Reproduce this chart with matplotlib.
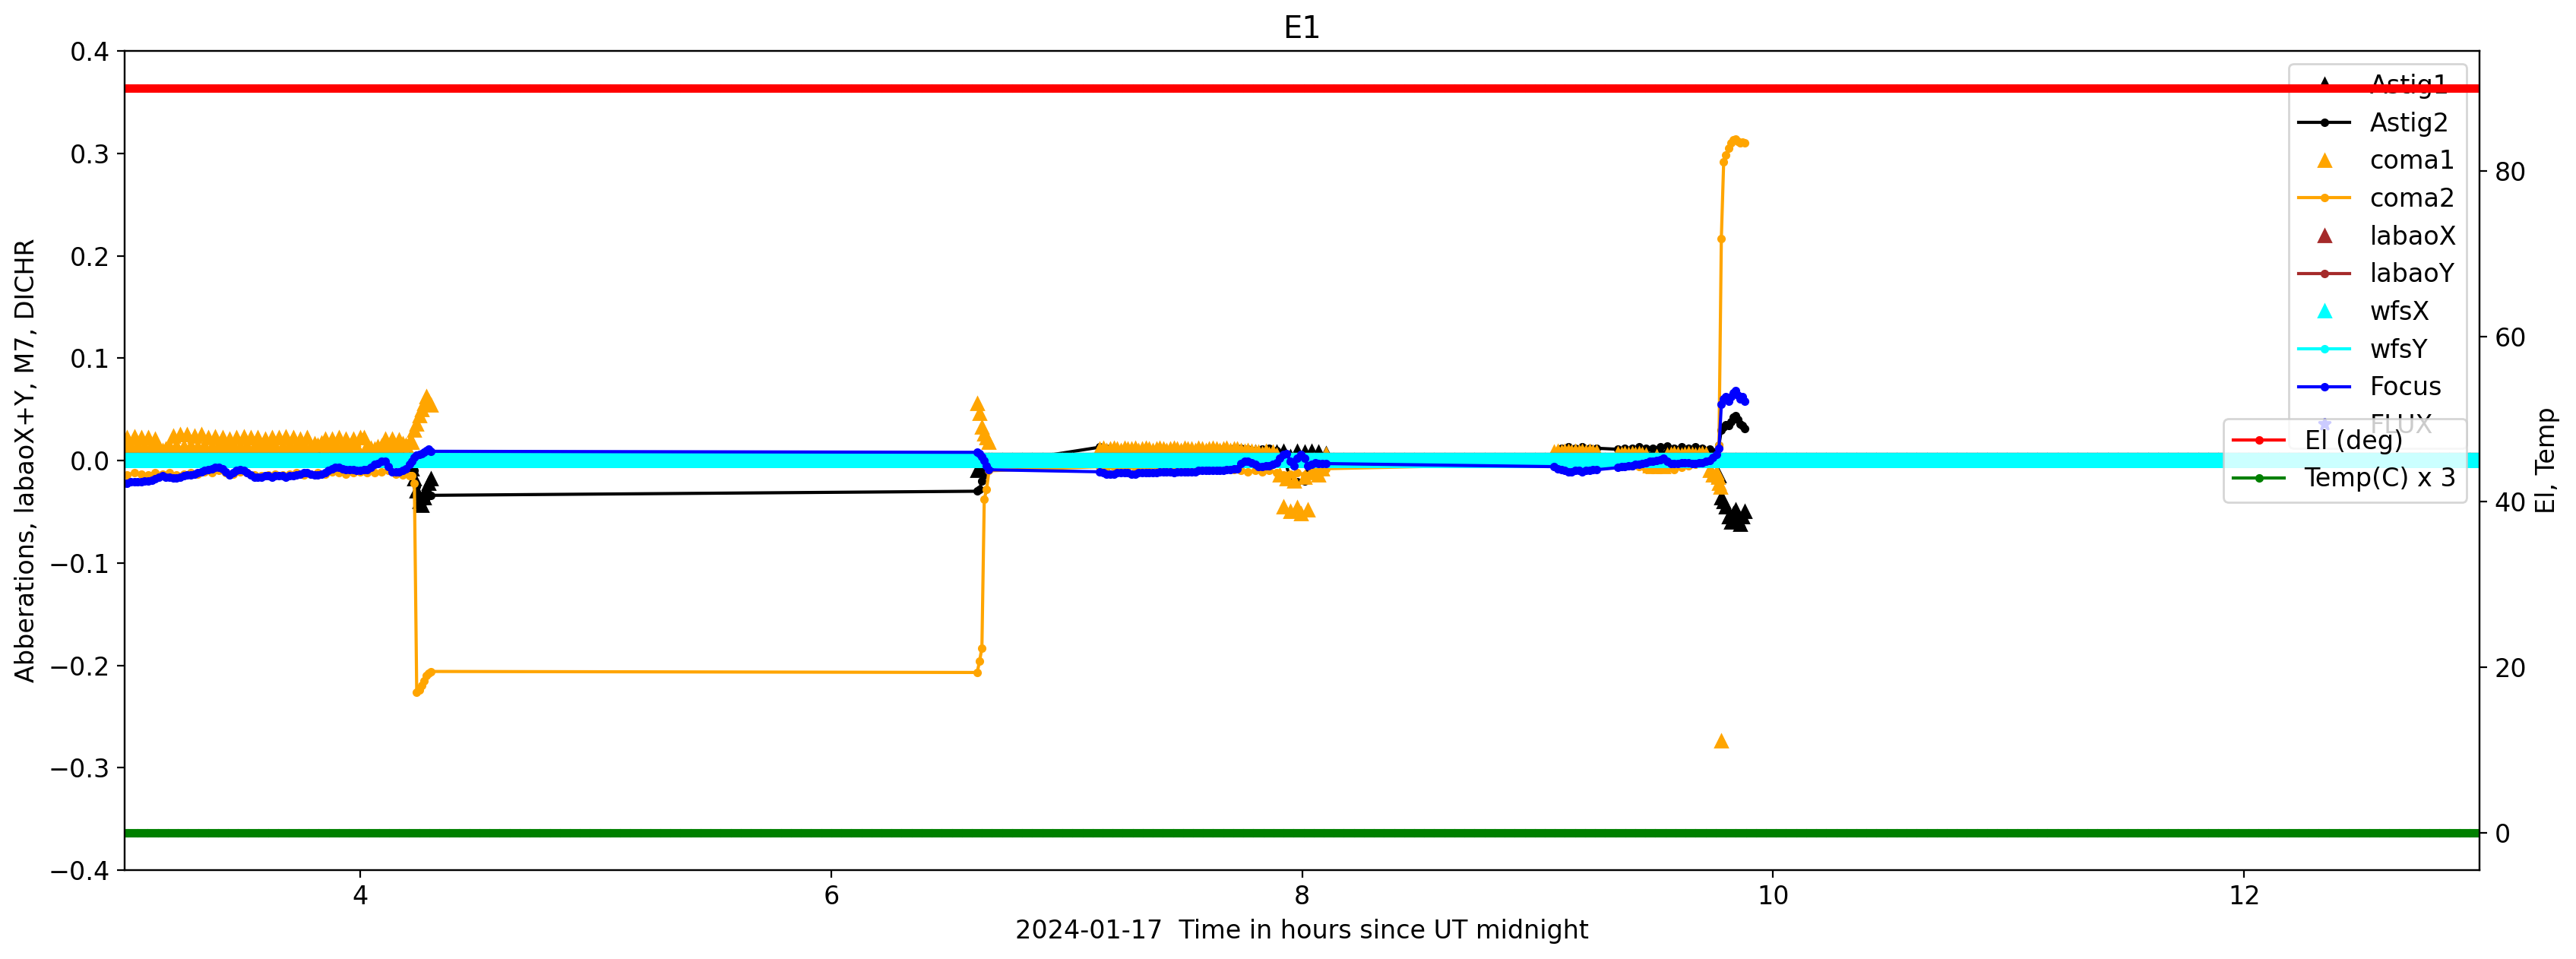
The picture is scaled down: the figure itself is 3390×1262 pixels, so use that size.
import numpy as np
import matplotlib.pyplot as plt

plt.rcParams['font.size'] = 12

# ─── Data ────────────────────────────────────────────────────────────────────
# time stamps, hours since UT midnight
# sparse sampling (Astig1, Astig2, coma2)
T_SPARSE = dict(
    A=2.98 + 0.03 * np.arange(42),
    J1=[4.22, 4.23, 4.24, 4.25, 4.26, 4.27, 4.28, 4.29, 4.30],
    J2=[6.62, 6.63, 6.64, 6.65, 6.66, 6.67],
    C=7.14 + 0.03 * np.arange(33),
    D1=9.07 + 0.03 * np.arange(7),
    D2=9.34 + 0.03 * np.arange(15),
    J3=[9.77, 9.78, 9.79, 9.80, 9.81, 9.82, 9.83, 9.84, 9.85, 9.86, 9.87, 9.88])
# dense sampling (coma1, Focus)
T_DENSE = dict(
    A=2.98 + 0.015 * np.arange(83),
    J1=T_SPARSE['J1'],
    J2=T_SPARSE['J2'],
    C=7.14 + 0.015 * np.arange(65),
    D1=9.07 + 0.015 * np.arange(13),
    D2=9.34 + 0.015 * np.arange(29),
    J3=T_SPARSE['J3'])
T_COMA1_J3 = [9.765, 9.77, 9.775, 9.78]
T_LONG = np.arange(2.9, 13.1, 0.003)   # continuous telemetry (wfs, El, Temp)

# aberrations in units of 1e-3
ASTIG1 = dict(
    A=[5, 4, 6, 3, 4, 5, 2, 5, 6, 5, 4, 3, 4, 5, 6, 4, 3, 5, 6, 5, 4, 5, 6, 5, 3,
       4, 5, 6, 5, 4, 3, 2, 4, 3, 2, 4, 3, 2, 3, 4, 2, 1],
    J1=[-8, -18, -30, -40, -44, -36, -28, -22, -18],
    J2=[-10, -8, -6, -4, -2, 0],
    C=[8, 9, 7, 6, 7, 6, 5, 6, 7, 6, 6, 7, 6, 5, 6, 7, 8, 9, 8, 9, 8, 7, 8, 6, 7,
       8, 9, 4, 9, 8, 9, 8, 7],
    D1=[7, 8, 8, 7, 8, 8, 7],
    D2=[6, 7, 7, 8, 7, 7, 8, 9, 7, 8, 8, 9, 8, 7, 5],
    J3=[-15, -36, -40, -45, -55, -60, -52, -48, -58, -62, -55, -50])
ASTIG2 = dict(
    A=[4, 3, 3, 4, 3, 2, 3, 4, 3, 3, 4, 3, 2, 3, 4, 3, 3, 2, 3, 4, 3, 3, 4, 3, 2,
       3, 3, 4, 3, 2, 3, 3, 2, 3, 2, 2, 3, 2, 2, 3, 2, 1],
    J1=[0, -10, -25, -38, -42, -40, -36, -34, -34],
    J2=[-30, -28, -20, -14, -8, -4],
    C=[13, 12, 11, 10, 10, 11, 10, 10, 11, 10, 10, 11, 10, 10, 11, 10, 10, 11, 11,
       12, 12, 11, 10, 11, 12, 10, 8, -20, -21, -20, 6, 4, 2],
    D1=[3, 12, 13, 12, 13, 12, 12],
    D2=[11, 12, 12, 13, 12, 12, 13, 14, 12, 13, 12, 13, 12, 11, 9],
    J3=[15, 30, 33, 35, 34, 38, 42, 44, 40, 36, 34, 31])
COMA1 = dict(
    A=[22, 14, 22, 13, 23, 14, 22, 13, 22, 14, 21,
       12, 10, 11, 13,
       24, 14, 25, 13, 25, 14, 24, 13, 25, 14,
       22, 13, 23, 14, 22, 13, 21, 14, 22, 13, 23, 14, 22, 13, 22, 14, 21, 13, 22,
       14, 22, 13, 23, 14, 22, 13, 21, 14, 22, 13,
       16, 15, 17,
       21, 13, 21, 14, 22, 13, 21, 14, 21, 13, 22,
       22, 14,
       12, 11, 13, 14,
       21, 13, 21, 14, 20,
       16, 15, 18],
    J1=[18, 30, 36, 44, 50, 56, 62, 58, 54],
    J2=[56, 46, 33, 26, 22, 18],
    C=[11, 12, 10, 11, 12, 11, 10, 12, 11, 11, 12, 10, 11, 12, 11, 10, 11, 12, 11,
       10, 11, 12, 11, 10, 12, 11, 11, 10, 12, 11, 10, 11, 12, 11, 10, 11, 12, 10,
       11, 11, 10, 9, 10, 9, 8,
       8, 7, 9, 6, 8, 5,
       -14, -45, -18, -50, -20, -46,
       -52, -16, -48, -12,
       -10, -14, -8, 6],
    D1=[8, 9, 8, 9, 9, 8, 9, 8, 9, 8, 9, 8, 8],
    D2=[7, 6, 7, 6, 7, 6, 7, 6, 5, -5, -6, 4, -5, -6, 5, 6, 7, 6, 5, 6, 7, 6, 5,
        6, 7, 6, -10, -14, -12],
    J3=[-16, -22, -26, -274])
COMA2 = dict(
    A=[-13, -14, -12, -13, -14, -12, -13, -12, -14, -13, -12, -13, -11, -12, -10,
       -12, -13, -11, -12, -14, -15, -14, -13, -14, -13, -12, -14, -13, -12, -13,
       -11, -12, -13, -12, -11, -12, -12, -11, -10, -13, -14, -15],
    J1=[-15, -22, -226, -224, -220, -215, -210, -208, -206],
    J2=[-207, -196, -183, -38, -28, -10],
    C=[-6, -7, -6, -5, -6, -7, -6, -5, -6, -7, -6, -5, -6, -7, -6, -5, -6, -7, -8,
       -9, -10, -11, -10, -11, -10, -12, -14, -13, -12, -14, -12, -10, -8],
    D1=[-3, -4, -4, -3, -4, -4, -3],
    D2=[-3, -4, -5, -6, -8, -9, -9, -8, -9, -7, -5, -4, -3, -3, -2],
    J3=[15, 217, 292, 298, 305, 310, 313, 314, 312, 310, 311, 310])
FOCUS = dict(
    A=[-22, -22, -22, -21, -21, -21, -21,
       -20, -20, -19, -18,
       -16, -15, -16, -16,
       -17, -17, -16, -15, -14,
       -14, -13, -12, -11, -10,
       -9, -8, -7, -7, -8,
       -11, -14, -12, -10, -9,
       -10, -12, -14, -16, -16,
       -16, -15, -15, -16, -15, -15, -15, -16, -15, -15,
       -14, -13, -12, -12, -13,
       -14, -14, -13, -12, -10,
       -8, -7, -7, -8, -9,
       -9, -9, -10, -10, -9,
       -9, -7, -4, -3, -1,
       -1, -6, -11, -11, -11,
       -10, -8, -4],
    J1=[-1, 3, 5, 6, 7, 8, 10, 11, 9],
    J2=[8, 7, 4, 0, -5, -9],
    C=[-11, -12, -13, -13, -13, -12, -12, -12, -12, -13, -13, -12, -12, -12, -12,
       -12, -12, -11, -11, -11, -11,
       -12, -11, -11, -11, -11, -11, -11, -10, -10, -10, -10, -10, -10, -10, -10,
       -9, -9, -8, -8,
       -3, -1, -1, -2, -4,
       -6, -6, -5, -5, -4,
       -2, 2, 6, 7,
       -1, -5, 2,
       6, 2, -5,
       -4, -2, -3, -3, -3],
    D1=[-6, -8, -9, -10, -11, -11, -10, -10, -11, -10, -10, -9, -9],
    D2=[-7, -6, -6, -5, -5, -4, -4, -3, -2, -1, -1, 0, 1, 2, -1, -3, -3, -3, -2,
        -2, -2, -3, -3, -2, -2, -1, 0, 3, 6],
    J3=[12, 55, 60, 62, 58, 62, 66, 68, 64, 60, 62, 58])

LABAO_VAL = 0.0
WFS_VAL = 0.0
FLUX_T, FLUX_V = [], []
EL_DEG = 90.0
TEMP_X3 = 0.0

SEGMENTS = ['A', 'J1', 'J2', 'C', 'D1', 'D2', 'J3']


def series(vals, times, j3_times=None):
    t_parts = [times[s] for s in SEGMENTS]
    if j3_times is not None:
        t_parts[-1] = j3_times
    t = np.concatenate([np.asarray(p, float) for p in t_parts])
    v = np.concatenate([np.asarray(vals[s], float) for s in SEGMENTS]) / 1000.0
    return t, v


# ─── Plot ────────────────────────────────────────────────────────────────────
fig, ax = plt.subplots(figsize=(16.955, 6.31), dpi=200)
fig.subplots_adjust(left=0.0484, right=0.9623, bottom=0.0927, top=0.9469)

t, v = series(ASTIG1, T_SPARSE)
ax.plot(t, v, '^', color='black', label='Astig1')
t, v = series(ASTIG2, T_SPARSE)
ax.plot(t, v, '.-', color='black', label='Astig2')
t, v = series(COMA1, T_DENSE, T_COMA1_J3)
ax.plot(t, v, '^', color='orange', label='coma1')
t, v = series(COMA2, T_SPARSE)
ax.plot(t, v, '.-', color='orange', label='coma2')
ax.plot(T_LONG, np.full(len(T_LONG), LABAO_VAL), '^', color='brown', label='labaoX')
ax.plot(T_LONG, np.full(len(T_LONG), LABAO_VAL), '.-', color='brown', label='labaoY')
ax.plot(T_LONG, np.full(len(T_LONG), WFS_VAL), '^', color='cyan', label='wfsX')
ax.plot(T_LONG, np.full(len(T_LONG), WFS_VAL), '.-', color='cyan', label='wfsY')
t, v = series(FOCUS, T_DENSE)
ax.plot(t, v, '.-', color='blue', label='Focus')
ax.plot(FLUX_T, FLUX_V, '*', color='blue', label='FLUX')

ax.set_ylim(-0.4, 0.4)
ax.set_xlabel('2024-01-17  Time in hours since UT midnight')
ax.set_ylabel('Abberations, labaoX+Y, M7, DICHR')
ax.set_title('E1')
ax.legend(loc='upper right')

ax2 = ax.twinx()
ax2.plot(T_LONG, np.full(len(T_LONG), EL_DEG), '.-', color='red', label='El (deg)')
ax2.plot(T_LONG, np.full(len(T_LONG), TEMP_X3), '.-', color='green', label='Temp(C) x 3')
ax2.set_ylabel('El, Temp')
ax2.legend(loc='center right')
ax.set_xlim(3, 13)

fig.savefig('out.png', dpi=200)
plt.close()
